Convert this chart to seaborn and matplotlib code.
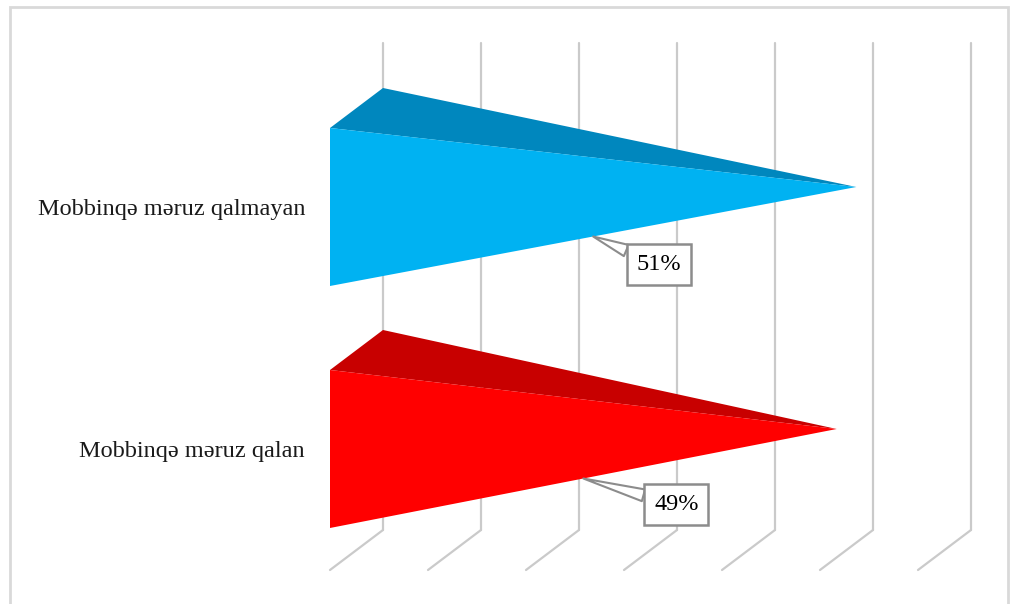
import matplotlib.pyplot as plt
import seaborn as sns
from matplotlib.patches import Polygon, Rectangle

# data
categories = ["Mobbinqə məruz qalan", "Mobbinqə məruz qalmayan"]
values = [49, 51]
tick_values = [0, 10, 20, 30, 40, 50, 60]

# styling
front_colors = ["#FF0000", "#00B2F2"]
top_colors = ["#C80000", "#0087BE"]
label_offsets = [(93, 26), (66, 28)]  # pixels, text box centre from anchor

sns.set_theme(style="white")
plt.rcParams["font.family"] = ["Liberation Serif", "DejaVu Serif"]

fig = plt.figure(figsize=(10.1, 6.04), dpi=100)
ax = fig.add_axes([0, 0, 1, 1])

# pixel mapping: 0% at x=330 px, 9.8 px per percent; category 0 centred at y=449 px, 242 px per category
px_per_pct = 9.8
px_per_cat = 242.0
ax.set_xlim(-330 / px_per_pct, (1010 - 330) / px_per_pct)
ax.set_ylim((449 - 604) / px_per_cat, 449 / px_per_cat)
ax.axis("off")

# oblique depth (back wall offset) and half bar height
dx = 53 / px_per_pct
dy = 40 / px_per_cat
h = 79 / px_per_cat

n = len(categories)
floor_front = -0.5
floor_back = floor_front + dy
wall_top = n - 0.5 + dy + 0.013

# gridlines on back wall and floor
for v in tick_values:
    ax.plot([v + dx, v + dx], [floor_back, wall_top], color="#CACACA", lw=1.6, zorder=1)
    ax.plot([v, v + dx], [floor_front, floor_back], color="#CACACA", lw=1.6, zorder=1)

# pyramids
for i, (cat, val) in enumerate(zip(categories, values)):
    apex = (val + dx / 2, i + dy / 2)
    front = Polygon([(0, i - h), (0, i + h), apex], closed=True,
                    facecolor=front_colors[i], edgecolor="none", zorder=3)
    top = Polygon([(0, i + h), (dx, i + h + dy), apex], closed=True,
                  facecolor=top_colors[i], edgecolor="none", zorder=2)
    ax.add_patch(top)
    ax.add_patch(front)

    # category label
    ax.annotate(cat, xy=(0, i), xytext=(-25, -3), textcoords="offset pixels",
                ha="right", va="center", fontsize=17.5, color="#1A1A1A")

    # data label with callout on the lower front edge
    anchor = (0.5 * apex[0], 0.5 * (i - h) + 0.5 * apex[1])
    ox, oy = label_offsets[i]
    ax.annotate(f"{val}%", xy=anchor, xytext=(ox, -oy), textcoords="offset pixels",
                ha="center", va="center", fontsize=17.5, color="#000000", zorder=5,
                bbox=dict(boxstyle="square,pad=0.4", fc="white", ec="#8C8C8C", lw=1.8),
                arrowprops=dict(arrowstyle="wedge,tail_width=0.5", fc="white",
                                ec="#8C8C8C", lw=1.5, shrinkA=0, shrinkB=0),
                )

# chart frame
fig.patches.append(Rectangle((10 / 1010, -0.01), 998 / 1010, 1 - 7 / 604 + 0.01,
                             transform=fig.transFigure, fill=False,
                             ec="#D9D9D9", lw=2))

fig.savefig("out.png", dpi=100)
